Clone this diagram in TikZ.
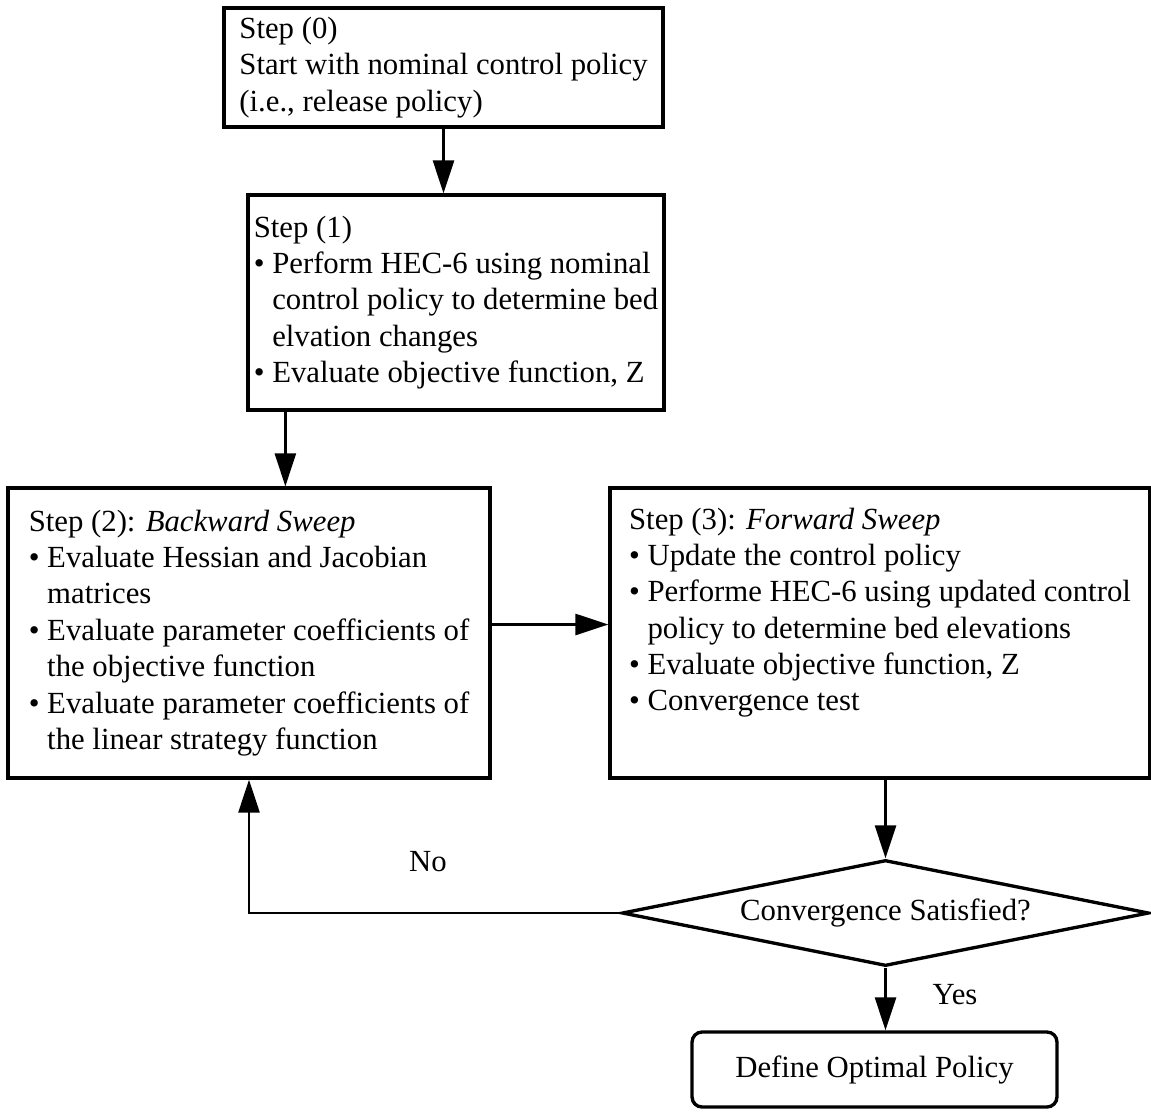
\documentclass[tikz,border=0pt]{standalone}
\usepackage{fontspec}
\setmainfont{Liberation Serif}
\usetikzlibrary{positioning, arrows.meta, shapes.geometric}

\begin{document}
\begin{tikzpicture}[
  x=0.02cm, y=-0.02cm,
  font=\fontsize{17.5}{20.7}\selectfont,
  stepbox/.style={draw, line width=1.9pt, align=left, inner sep=0pt},
  decision/.style={draw, diamond, aspect=4.97, line width=1.9pt, inner sep=0pt},
  arrow/.style={-{Triangle[length=0.66cm, width=0.42cm]}, line width=1.5pt},
]
  \useasboundingbox (0,0) rectangle (1151,1111);

  \node[stepbox, minimum width=8.78cm, minimum height=2.38cm] (s0) at (443.5,67.5)
    {Step (0)\\ Start with nominal control policy\\ (i.e., release policy)};
  \node[stepbox, minimum width=8.32cm, minimum height=4.3cm] (s1) at (456,302.5)
    {Step (1)\\
     \textbullet\ Perform HEC-6 using nominal\\
     \hphantom{\textbullet}\ control policy to determine bed\\
     \hphantom{\textbullet}\ elvation changes\\
     \textbullet\ Evaluate objective function, Z};
  \node[stepbox, minimum width=9.64cm, minimum height=5.8cm] (s2) at (249,633)
    {Step (2): \textit{Backward Sweep}\\
     \textbullet\ Evaluate Hessian and Jacobian\\
     \hphantom{\textbullet}\ matrices\\
     \textbullet\ Evaluate parameter coefficients of\\
     \hphantom{\textbullet}\ the objective function\\
     \textbullet\ Evaluate parameter coefficients of\\
     \hphantom{\textbullet}\ the linear strategy function};
  \node[stepbox, minimum width=10.8cm, minimum height=5.8cm] (s3) at (880,633)
    {Step (3): \textit{Forward Sweep}\\
     \textbullet\ Update the control policy\\
     \textbullet\ Performe HEC-6 using updated control\\
     \hphantom{\textbullet}\ policy to determine bed elevations\\
     \textbullet\ Evaluate objective function, Z\\
     \textbullet\ Convergence test\\
     \strut};
  \node[decision, minimum width=10.54cm, minimum height=2.12cm] (conv) at (885.5,913)
    {Convergence Satisfied?};
  \node[stepbox, rounded corners=0.2cm, minimum width=7.3cm, minimum height=1.5cm] (final) at (874.5,1069.5)
    {Define Optimal Policy};
  \node (no) at (428,862) {No};
  \node (yes) at (955,995) {Yes};

  \draw[arrow] (s0.south) -- (s0.south |- s1.north);
  \draw[arrow] ([xshift=0.78cm]s1.south west) -- ([xshift=0.78cm]s1.south west |- s2.north);
  \draw[arrow] ([yshift=0.17cm]s2.east) -- ([yshift=0.17cm]s3.west);
  \draw[arrow] (s3.south -| conv.north) -- (conv.north);
  \draw[arrow] (conv.west) -| (s2.south);
  \draw[arrow] (conv.south) -- (conv.south |- final.north);
\end{tikzpicture}
\end{document}
